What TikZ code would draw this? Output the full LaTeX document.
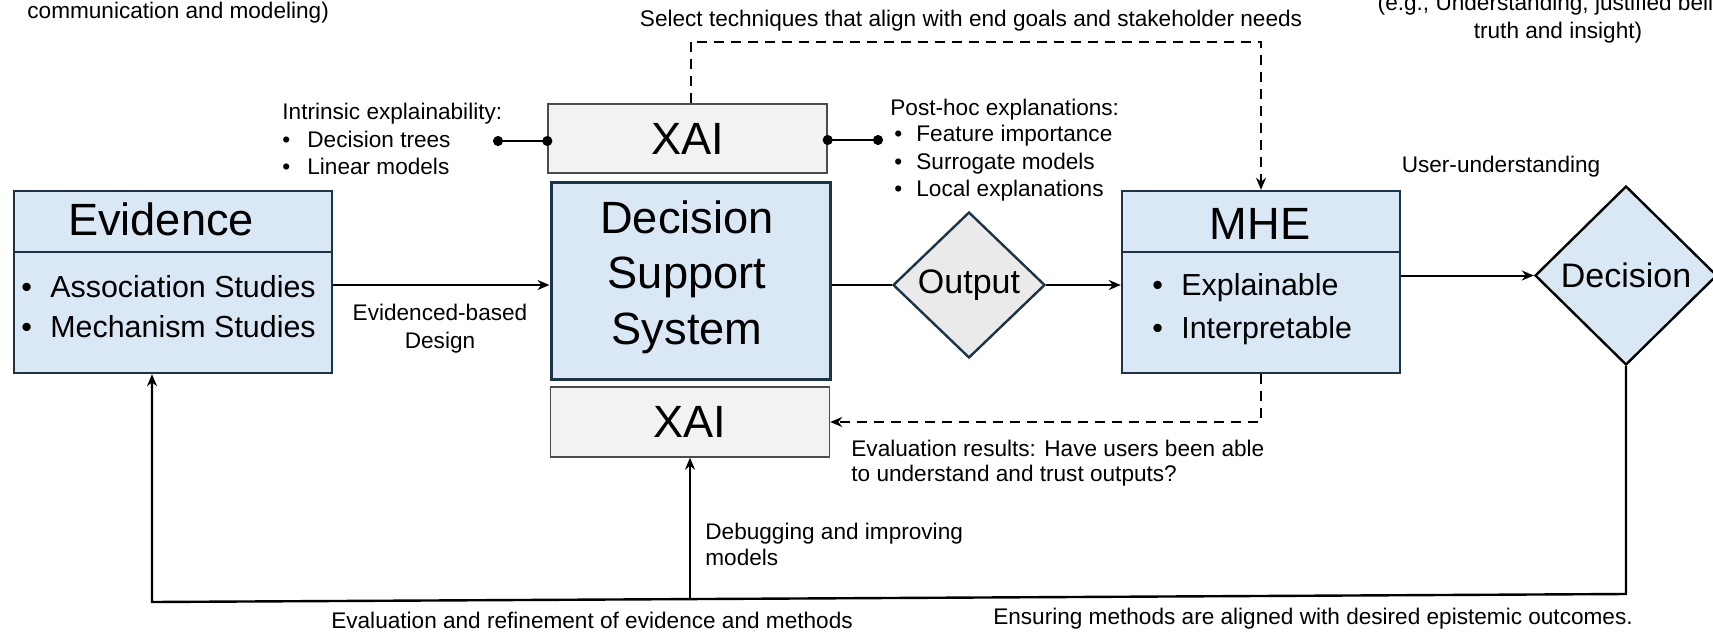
\documentclass[tikz,border=0pt]{standalone}
\usepackage{fontspec}
\setmainfont{Liberation Sans}
\usetikzlibrary{shapes.geometric}
\usetikzlibrary{arrows.meta}
\usetikzlibrary{calc}
\usetikzlibrary{positioning}

\definecolor{boxblue}{HTML}{DAE8F5}
\definecolor{boxline}{HTML}{1C3446}
\definecolor{xaigray}{HTML}{F2F2F2}
\definecolor{outgray}{HTML}{EAEAEA}

\newcommand{\bigtxt}{\fontsize{22.6}{27.7}\selectfont}
\newcommand{\smalltxt}{\fontsize{11.3}{13.7}\selectfont}
\newcommand{\bul}[1]{\makebox[#1][l]{\textbullet}}

\begin{document}
\begin{tikzpicture}[x=0.5pt, y=-0.5pt,
        bluebox/.style={draw=boxline, fill=boxblue, line width=1.2pt, inner sep=0pt},
        xaibox/.style={draw=black!70, fill=xaigray, line width=0.7pt, inner sep=0pt,
            minimum width=139.5pt, minimum height=34.5pt, font=\bigtxt},
        choice/.style={diamond, line width=1.2pt, inner sep=0pt, font=\fontsize{17}{20}\selectfont},
        txt/.style={font=\smalltxt, inner sep=0pt, align=left},
        arr/.style={line width=1pt, -{Stealth[length=6pt, width=5pt]}},
        dasharr/.style={arr, dash pattern=on 5pt off 3.5pt},
        dotlink/.style={line width=1pt, {Circle[length=5pt]}-{Circle[length=5pt]},
            shorten <=-2.5pt, shorten >=-2.5pt},
    ]
        \useasboundingbox (0,0) rectangle (1713,632);
        \clip (0,0) rectangle (1713,632);

        % notes cut at the top edge
        \node[txt, anchor=west] (commtxt) at (27,13) {communication and modeling)};
        \node[txt, align=center, anchor=north] (truthtxt) at (1558,-6)
            {(e.g., Understanding, justified belief,\\truth and insight)};

        % Evidence
        \node[bluebox, minimum width=159pt, minimum height=91pt] (evid) at (173,282) {};
        \draw[boxline, line width=1.2pt] (evid.west |- 0,252) -- (evid.east |- 0,252);
        \node[font=\bigtxt, inner sep=0pt] (evidhead) at (161,219) {Evidence};
        \node[font=\fontsize{15.2}{20}\selectfont, inner sep=0pt, align=left, anchor=west] (evidlist) at (21,307)
            {\bul{14.5pt}Association Studies\\\bul{14.5pt}Mechanism Studies};

        % Decision support system and the two XAI boxes
        \node[bluebox, line width=1.5pt, minimum width=139.5pt, minimum height=98.5pt] (dss) at (690.5,280.5) {};
        \node[font=\bigtxt, align=center, inner sep=0pt] (dsstext) at (687,277) {Decision\\Support\\System};
        \node[xaibox] (xait) at (687.5,138.5) {XAI};
        \node[xaibox, minimum height=35pt] (xaib) at (690,422) {XAI};

        % Output
        \node[choice, draw=boxline, fill=outgray, minimum width=76pt, minimum height=73pt] (out) at (969,285) {Output};

        % MHE
        \node[bluebox, minimum width=139pt, minimum height=91pt] (mhe) at (1261,282) {};
        \draw[boxline, line width=1.2pt] (mhe.west |- 0,252) -- (mhe.east |- 0,252);
        \node[font=\bigtxt, inner sep=0pt] (mhehead) at (1260,224) {MHE};
        \node[font=\fontsize{15.2}{21.5}\selectfont, inner sep=0pt, align=left, anchor=west] (mhelist) at (1152,309)
            {\bul{14.5pt}Explainable\\\bul{14.5pt}Interpretable};

        % Decision
        \node[choice, draw=black, fill=boxblue, minimum width=91pt, minimum height=89.5pt] (dec) at (1626,275.5) {Decision};

        % main flow
        \draw[arr] (evid.east |- 0,285) -- (dss.west |- 0,285);
        \draw[line width=1pt] (dss.east |- out.west) -- (out.west);
        \draw[arr] (out.east) -- (out.east -| mhe.west);
        \draw[arr] (mhe.east |- dec.west) -- (dec.west);

        \node[txt, align=center, anchor=north] (designtxt) at (440,304) {Evidenced-based\\Design};
        \node[txt] (usertxt) at (1501,167) {User-understanding};

        % XAI techniques
        \coordinate (intrdot) at (498,141);
        \draw[dotlink] (intrdot) -- (intrdot -| xait.west);
        \coordinate (postdot) at (878,140);
        \draw[dotlink] (xait.east |- postdot) -- (postdot);

        \node[txt, anchor=north west] (intrtxt) at (282,103)
            {Intrinsic explainability:\\\bul{12.5pt}Decision trees\\\bul{12.5pt}Linear models};
        \node[txt, anchor=north west] (posttxt) at (890,99)
            {Post-hoc explanations:\\[-0.6pt]\hspace*{2pt}\bul{11pt}Feature importance\\\hspace*{2pt}\bul{11pt}Surrogate models\\\hspace*{2pt}\bul{11pt}Local explanations};

        % dashed loops
        \coordinate (seltop) at (975,41.5);
        \draw[dasharr] ([xshift=1.5pt]xait.north) |- (seltop) -| (mhe.north);
        \node[txt] (seltxt) at (971,21) {Select techniques that align with end goals and stakeholder needs};

        \draw[dasharr] (mhe.south) |- (xaib.east);
        \node[txt, font=\fontsize{11.3}{12.6}\selectfont, anchor=north west] (evalres) at (851,440)
            {Evaluation results: Have users been able\\to understand and trust outputs?};

        % feedback along the bottom
        \coordinate (fbright) at (1626,594);
        \coordinate (fbleft) at (152,602);
        \draw[arr, line width=1.2pt] (dec.south) -- (fbright) -- (fbleft) -- (fbleft |- evid.south);
        \coordinate (dbgfoot) at (690,599);
        \draw[arr] (dbgfoot) -- (xaib.south);

        \node[txt, font=\fontsize{11.3}{13}\selectfont, anchor=north west] (dbgtxt) at (705,523) {Debugging and improving\\models};
        \node[txt] (refinetxt) at (592,620) {Evaluation and refinement of evidence and methods};
        \node[txt] (ensuretxt) at (1313,619) {Ensuring methods are aligned with desired epistemic outcomes.};
    \end{tikzpicture}
\end{document}
